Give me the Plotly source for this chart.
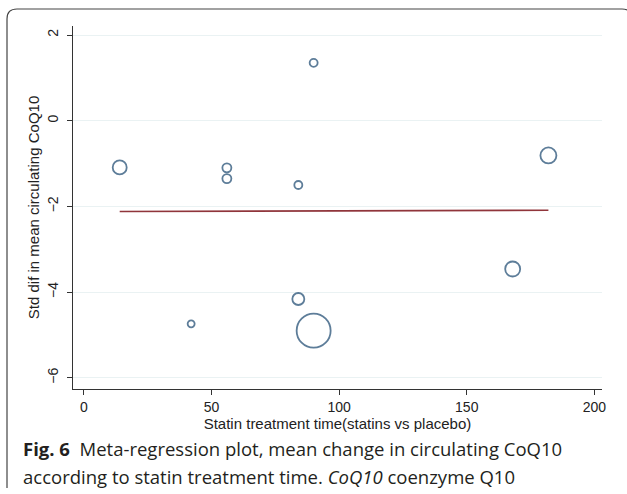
import plotly.graph_objects as go

# Data
treat_time = [14, 56, 56, 84, 90, 182, 42, 84, 90, 168]
std_dif = [-1.09, -1.10, -1.35, -1.50, 1.35, -0.81, -4.74, -4.16, -4.90, -3.46]
marker_diam = [14, 9, 9, 8, 8, 16, 7, 12, 34, 15]  # bubble size (study weight)

fit_x = [14, 66, 155, 182]
fit_y = [-2.12, -2.115, -2.095, -2.09]

x_ticks = [0, 50, 100, 150, 200]
y_ticks = [-6, -4, -2, 0, 2]

NAVY = "#1a476f"
MAROON = "#90353b"
GRID = "#eaf2f3"

W, H = 627, 494
L, R, T, B = 73, 25, 26, 105
PW, PH = W - L - R, H - T - B


def px(xp):
    return (xp - L) / PW


def py(yp):
    return (H - B - yp) / PH


fig = go.Figure()
fig.add_trace(go.Scatter(
    x=treat_time, y=std_dif, mode="markers",
    marker=dict(size=marker_diam, color="rgba(0,0,0,0)",
                line=dict(color=NAVY, width=1.8)),
    hoverinfo="x+y", showlegend=False))
fig.add_trace(go.Scatter(
    x=fit_x, y=fit_y, mode="lines",
    line=dict(color=MAROON, width=1.6), showlegend=False))

tick_font = dict(family="Liberation Sans, Arial", size=14, color="#222")
title_font = dict(family="Liberation Sans, Arial", size=15, color="#222")

fig.update_layout(
    width=W, height=H,
    margin=dict(l=L, r=R, t=T, b=B),
    paper_bgcolor="white", plot_bgcolor="white",
    xaxis=dict(range=[-4.3, 203], tickvals=x_ticks, ticks="outside", ticklen=5,
               tickcolor="#333", showline=True, linecolor="#333", linewidth=1,
               showgrid=False, zeroline=False, tickfont=tick_font,
               title=dict(text="Statin treatment time(statins vs placebo)",
                          font=title_font, standoff=0)),
    yaxis=dict(range=[-6.26, 2.21], tickvals=y_ticks, ticks="outside", ticklen=5,
               tickcolor="#333", showline=True, linecolor="#333", linewidth=1,
               showgrid=True, gridcolor=GRID, gridwidth=1.2, zeroline=False,
               tickfont=tick_font, tickangle=-90, ticklabelstandoff=3,
               title=dict(text="Std dif in mean circulating CoQ10",
                          font=title_font, standoff=2)),
)

# rounded frame around the figure
x0, x1 = px(7), px(632)
y_top, y_bot = py(9), py(488)
rx, ry = 10 / PW, 10 / PH
path = (f"M {x0},{y_bot} L {x0},{y_top - ry} Q {x0},{y_top} {x0 + rx},{y_top} "
        f"L {x1 - rx},{y_top} Q {x1},{y_top} {x1},{y_top - ry}")
fig.add_shape(type="path", path=path, xref="paper", yref="paper",
              line=dict(color="#444", width=1.2))

cap_font = dict(family="Open Sans", size=18.5, color="#231f20")
fig.add_annotation(
    x=px(21), y=py(449), xref="paper", yref="paper", xanchor="left", yanchor="middle",
    showarrow=False, font=cap_font,
    text="<b>Fig. 6</b>  Meta-regression plot, mean change in circulating CoQ10")
fig.add_annotation(
    x=px(21), y=py(476), xref="paper", yref="paper", xanchor="left", yanchor="middle",
    showarrow=False, font=cap_font,
    text="according to statin treatment time. <i>CoQ10</i> coenzyme Q10")

fig.write_html("out.html")
